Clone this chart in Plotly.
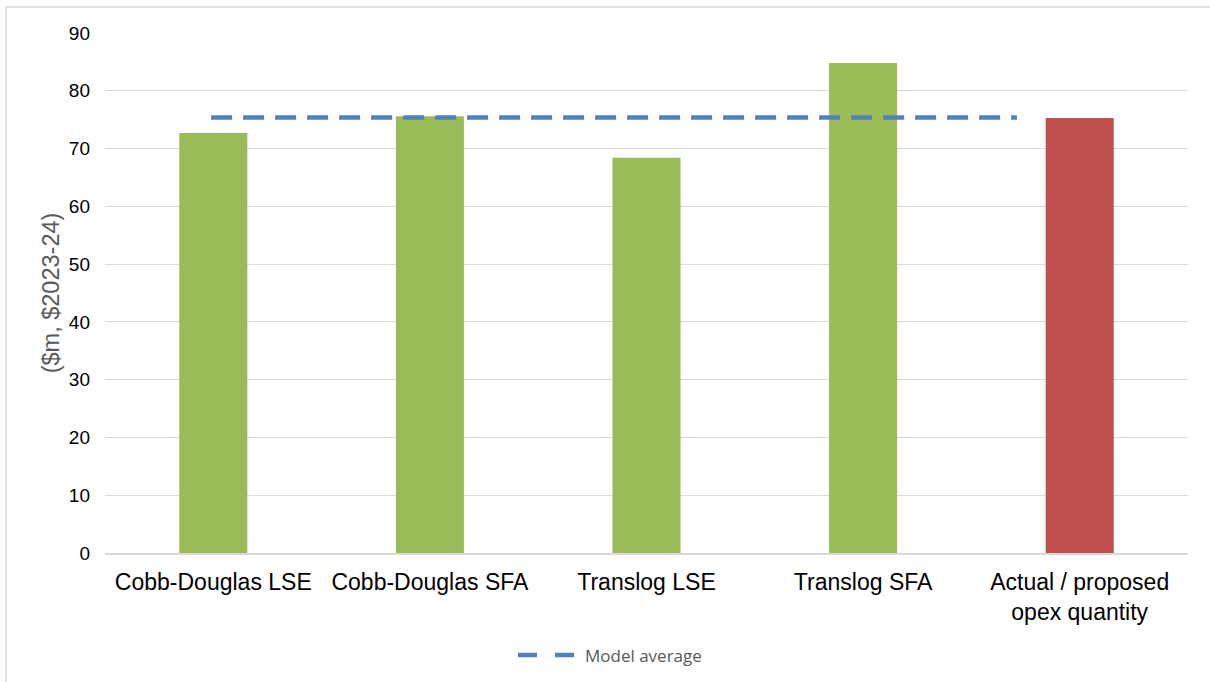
import plotly.graph_objects as go

# ---- data ----
categories = ["Cobb-Douglas LSE", "Cobb-Douglas SFA", "Translog LSE",
              "Translog SFA", "Actual / proposed<br>opex quantity"]
model_values = [72.7, 75.6, 68.4, 84.8]
actual_value = [75.3]
avg_line_span = [-0.01, 3.71]   # category positions covered by the average line
y_ticks = [0, 10, 20, 30, 40, 50, 60, 70, 80, 90]
legend_label = "Model average"
y_title = "($m, $2023-24)"

GREEN = "#9BBB59"
RED = "#C0504D"
BLUE = "#4F81BD"

n = len(categories)
xpos = list(range(n))
values = model_values + actual_value
colors = [GREEN] * len(model_values) + [RED] * len(actual_value)
model_avg = sum(model_values) / len(model_values)

fig = go.Figure()
fig.add_trace(go.Bar(x=xpos, y=values, marker=dict(color=colors, line=dict(width=0)),
                     showlegend=False, hoverinfo="y"))
fig.add_trace(go.Scatter(x=avg_line_span, y=[model_avg] * len(avg_line_span),
                         mode="lines", name=legend_label, showlegend=False,
                         line=dict(color=BLUE, width=4.5, dash="21px,11px")))

L, R, T, B = 105, 22, 33, 129
W, H = 1210, 682
pw, ph = W - L - R, H - T - B
def px_x(p):
    return (p - L) / pw
def px_y(p):
    return (H - B - p) / ph

# outer chart border (clipped by page edges like the reference)
fig.add_shape(type="rect", xref="paper", yref="paper",
              x0=px_x(6), x1=px_x(1230), y0=px_y(700), y1=px_y(7),
              line=dict(color="#D9D9D9", width=1.5), fillcolor="rgba(0,0,0,0)", layer="below")

# legend (drawn manually so the key shows two dashes like the reference)
fig.add_shape(type="line", xref="paper", yref="paper",
              x0=px_x(518), x1=px_x(574), y0=px_y(655), y1=px_y(655),
              line=dict(color=BLUE, width=4.5, dash="19px,18px"))
fig.add_annotation(xref="paper", yref="paper", x=px_x(583), y=px_y(655),
                   xanchor="left", yanchor="middle", showarrow=False, text=legend_label,
                   font=dict(family="Open Sans, sans-serif", size=17, color="#595959"))

fig.update_layout(
    width=W, height=H,
    margin=dict(l=L, r=R, t=T, b=B),
    paper_bgcolor="white", plot_bgcolor="white",
    bargap=0.686,
    showlegend=False,
    font=dict(family="Liberation Sans, Arial, sans-serif", color="#000000"),
    xaxis=dict(range=[-0.5, n - 0.5], tickmode="array", tickvals=xpos, ticktext=categories,
               showgrid=False, zeroline=False, showline=True, linecolor="#D9D9D9", linewidth=1.5,
               ticks="", tickfont=dict(size=23, color="#000000"), ticklabelstandoff=8,
               fixedrange=True),
    yaxis=dict(range=[0, 90], tickmode="array", tickvals=y_ticks,
               showgrid=True, gridcolor="#D9D9D9", gridwidth=1.3, zeroline=False,
               showline=False, ticks="", tickfont=dict(size=19, color="#000000"),
               ticklabelstandoff=14,
               title=dict(text=y_title, font=dict(size=23.5, color="#595959"), standoff=2),
               fixedrange=True),
)

fig.write_html("out.html")
